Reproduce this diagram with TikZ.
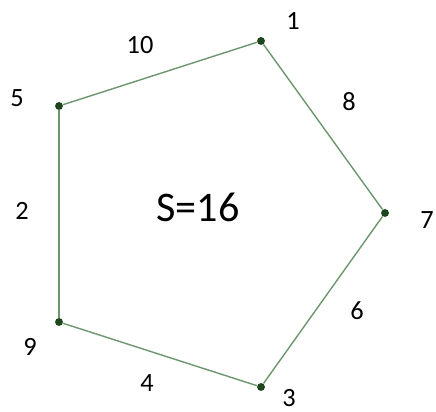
\documentclass[tikz,border=0pt]{standalone}
\usepackage{fontspec}
\setmainfont{Carlito}
\usetikzlibrary{positioning}

\definecolor{edgegreen}{RGB}{110,150,110}
\definecolor{dotgreen}{RGB}{30,70,30}

\begin{document}
\begin{tikzpicture}[
    vertex/.style={circle, fill=dotgreen, inner sep=0pt, minimum size=4.5pt},
    num/.style={font=\fontsize{15}{18}\selectfont, inner sep=0pt},
    edge/.style={draw=edgegreen, line width=0.8pt}
]
\useasboundingbox (0,0) rectangle (8.72,-8.24);

% Vertices
\node[vertex] (v1) at (5.22,-0.82) {};
\node[vertex] (v7) at (7.70,-4.26) {};
\node[vertex] (v3) at (5.22,-7.74) {};
\node[vertex] (v9) at (1.18,-6.44) {};
\node[vertex] (v5) at (1.18,-2.12) {};

% Edges
\draw[edge] (v1) -- (v7);
\draw[edge] (v7) -- (v3);
\draw[edge] (v3) -- (v9);
\draw[edge] (v9) -- (v5);
\draw[edge] (v5) -- (v1);

% Vertex labels
\node[num] (l1) at (5.86,-0.42) {1};
\node[num] (l7) at (8.54,-4.40) {7};
\node[num] (l3) at (5.78,-7.96) {3};
\node[num] (l9) at (0.60,-6.94) {9};
\node[num] (l5) at (0.34,-1.96) {5};

% Edge labels
\node[num] (l10) at (2.80,-0.90) {10};
\node[num] (l8) at (6.98,-2.04) {8};
\node[num] (l6) at (7.14,-6.22) {6};
\node[num] (l4) at (2.94,-7.66) {4};
\node[num] (l2) at (0.44,-4.22) {2};

% Sum
\node[font=\fontsize{24}{28}\selectfont, inner sep=0pt] (sum) at (3.96,-4.14) {S=16};
\end{tikzpicture}
\end{document}
